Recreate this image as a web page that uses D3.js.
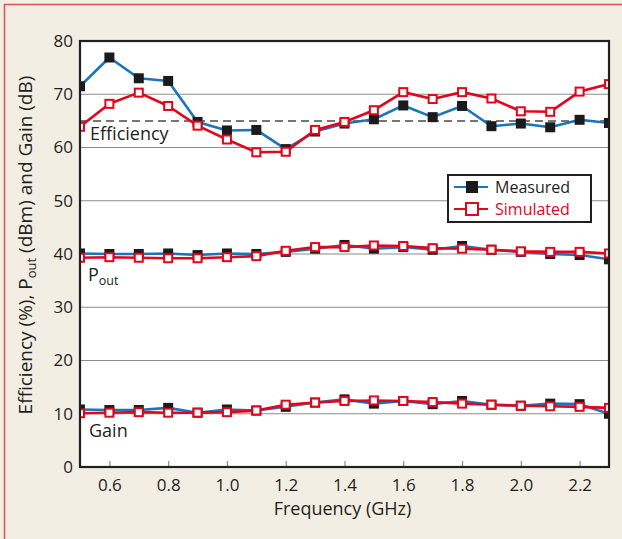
<!DOCTYPE html>
<html>
<head>
<meta charset="utf-8">
<script src="https://cdn.jsdelivr.net/npm/d3@7"></script>
<style>
  html, body { margin: 0; padding: 0; background: #f3eee3; }
  svg { display: block; }
  text { font-family: "Open Sans", Lato, sans-serif; fill: #231f20; }
</style>
</head>
<body>
<svg id="chart" width="622" height="539"></svg>
<script>
// Frequency sweep (GHz)
const freq = [0.5, 0.6, 0.7, 0.8, 0.9, 1.0, 1.1, 1.2, 1.3, 1.4, 1.5, 1.6, 1.7, 1.8, 1.9, 2.0, 2.1, 2.2, 2.3];

// Drain efficiency (%)
const effMeasured  = [71.5, 76.9, 73.0, 72.5, 64.8, 63.2, 63.3, 59.7, 63.0, 64.5, 65.3, 67.9, 65.7, 67.8, 64.0, 64.5, 63.8, 65.2, 64.6];
const effSimulated = [63.9, 68.2, 70.3, 67.8, 64.1, 61.5, 59.1, 59.2, 63.3, 64.8, 67.0, 70.4, 69.1, 70.4, 69.2, 66.8, 66.7, 70.5, 71.9];

// Output power (dBm)
const poutMeasured  = [40.1, 40.0, 40.0, 40.1, 39.8, 40.1, 40.0, 40.4, 41.0, 41.7, 41.0, 41.3, 40.8, 41.5, 40.8, 40.4, 40.0, 39.8, 39.0];
const poutSimulated = [39.3, 39.4, 39.3, 39.2, 39.2, 39.4, 39.6, 40.6, 41.3, 41.3, 41.6, 41.5, 41.1, 41.0, 40.8, 40.5, 40.4, 40.4, 40.1];

// Gain (dB)
const gainMeasured  = [10.8, 10.7, 10.7, 11.1, 10.2, 10.8, 10.6, 11.3, 12.1, 12.7, 11.9, 12.4, 11.8, 12.4, 11.7, 11.5, 11.9, 11.8, 10.0];
const gainSimulated = [10.1, 10.2, 10.3, 10.2, 10.2, 10.3, 10.6, 11.7, 12.1, 12.4, 12.5, 12.4, 12.2, 11.9, 11.7, 11.5, 11.4, 11.3, 11.1];

// Axis ticks
const xTicks = [0.6, 0.8, 1.0, 1.2, 1.4, 1.6, 1.8, 2.0, 2.2];
const yTicks = [0, 10, 20, 30, 40, 50, 60, 70, 80];
const efficiencyTarget = 65;

const FONT = "'Open Sans', Lato, sans-serif";
const svg = d3.select("#chart");
const W = 622, H = 539;
const margin = { left: 80, right: 13, top: 41, bottom: 72 };
const plotW = W - margin.left - margin.right;
const plotH = H - margin.top - margin.bottom;

// Outer panel border
svg.append("rect")
  .attr("x", 4.5).attr("y", 4.5)
  .attr("width", W + 10).attr("height", H + 10)
  .attr("fill", "#f3eee3")
  .attr("stroke", "#e0505a").attr("stroke-width", 1.5);

const x = d3.scaleLinear().domain([0.5, 2.3]).range([margin.left, margin.left + plotW]);
const y = d3.scaleLinear().domain([0, 80]).range([margin.top + plotH, margin.top]);

// Plot background
svg.append("rect")
  .attr("x", margin.left).attr("y", margin.top)
  .attr("width", plotW).attr("height", plotH)
  .attr("fill", "#ffffff");

// Horizontal grid
svg.append("g")
  .selectAll("line")
  .data(yTicks.filter(v => v > 0 && v < 80))
  .join("line")
  .attr("x1", margin.left).attr("x2", margin.left + plotW)
  .attr("y1", d => y(d)).attr("y2", d => y(d))
  .attr("stroke", "#8c8c8c").attr("stroke-width", 1.2);

// Efficiency reference line
svg.append("line")
  .attr("x1", x(0.5)).attr("x2", x(2.3))
  .attr("y1", y(efficiencyTarget)).attr("y2", y(efficiencyTarget))
  .attr("stroke", "#4a4a4a").attr("stroke-width", 1.5)
  .attr("stroke-dasharray", "8,5");

// Bottom axis: inner ticks
const xAxis = d3.axisBottom(x).tickValues(xTicks).tickSizeInner(-6).tickSizeOuter(0)
  .tickFormat(d3.format(".1f"));
const gx = svg.append("g").attr("transform", `translate(0,${margin.top + plotH})`).call(xAxis);
gx.select(".domain").remove();
gx.selectAll(".tick line").attr("stroke", "#8c8c8c").attr("stroke-width", 1.2);
gx.selectAll(".tick text")
  .attr("dy", null).attr("y", 24)
  .style("font-size", "17px").style("font-family", FONT)
  .attr("fill", "#231f20");

// Left axis labels
const yAxis = d3.axisLeft(y).tickValues(yTicks).tickSize(0).tickPadding(7);
const gy = svg.append("g").attr("transform", `translate(${margin.left},0)`).call(yAxis);
gy.select(".domain").remove();
gy.selectAll(".tick text")
  .style("font-size", "17px").style("font-family", FONT)
  .attr("fill", "#231f20");

// Series
const series = [
  { name: "Measured",  values: [effMeasured, poutMeasured, gainMeasured],   line: "#1a74b9", filled: true },
  { name: "Simulated", values: [effSimulated, poutSimulated, gainSimulated], line: "#e3051b", filled: false }
];

const line = d3.line().x(d => x(d[0])).y(d => y(d[1]));

function drawMarkers(g, pts, s) {
  if (s.filled) {
    g.selectAll(null).data(pts).join("rect")
      .attr("x", d => x(d[0]) - 5).attr("y", d => y(d[1]) - 5)
      .attr("width", 10).attr("height", 10)
      .attr("fill", "#1c1a1b");
  } else {
    g.selectAll(null).data(pts).join("rect")
      .attr("x", d => x(d[0]) - 4).attr("y", d => y(d[1]) - 4)
      .attr("width", 8).attr("height", 8)
      .attr("fill", "#ffffff").attr("stroke", s.line).attr("stroke-width", 2);
  }
}

const clipId = "plot-clip";
svg.append("clipPath").attr("id", clipId)
  .append("rect").attr("x", margin.left).attr("y", margin.top).attr("width", plotW).attr("height", plotH);

const layer = svg.append("g").attr("clip-path", `url(#${clipId})`);
series.forEach(s => {
  const g = layer.append("g");
  s.values.forEach(vals => {
    const pts = freq.map((f, i) => [f, vals[i]]);
    g.append("path").datum(pts)
      .attr("d", line).attr("fill", "none")
      .attr("stroke", s.line).attr("stroke-width", 2.6)
      .attr("stroke-linejoin", "round");
    drawMarkers(g, pts, s);
  });
});

// Plot frame
svg.append("rect")
  .attr("x", margin.left).attr("y", margin.top)
  .attr("width", plotW).attr("height", plotH)
  .attr("fill", "none").attr("stroke", "#231f20").attr("stroke-width", 2.2);

// Curve labels
svg.append("text").attr("x", 90).attr("y", 140).style("font-size", "18px").text("Efficiency");
const pout = svg.append("text").attr("x", 88).attr("y", 281).style("font-size", "18px");
pout.append("tspan").text("P");
pout.append("tspan").attr("dy", 4).style("font-size", "12.5px").text("out");
svg.append("text").attr("x", 89).attr("y", 437).style("font-size", "18px").text("Gain");

// Legend
const lg = svg.append("g");
lg.append("rect")
  .attr("x", 448).attr("y", 175).attr("width", 143).attr("height", 47)
  .attr("fill", "#ffffff").attr("stroke", "#231f20").attr("stroke-width", 2);
series.forEach((s, i) => {
  const cy = 187 + i * 22;
  lg.append("line").attr("x1", 454).attr("x2", 488).attr("y1", cy).attr("y2", cy)
    .attr("stroke", s.line).attr("stroke-width", 2.2);
  if (s.filled) {
    lg.append("rect").attr("x", 466).attr("y", cy - 6).attr("width", 12).attr("height", 12).attr("fill", "#1c1a1b");
  } else {
    lg.append("rect").attr("x", 466).attr("y", cy - 6).attr("width", 12).attr("height", 12)
      .attr("fill", "#ffffff").attr("stroke", s.line).attr("stroke-width", 2);
  }
  lg.append("text").attr("x", 495).attr("y", cy + 6)
    .style("font-size", "16px")
    .style("fill", s.filled ? "#231f20" : "#e3051b")
    .text(s.name);
});

// Axis titles
svg.append("text")
  .attr("x", margin.left + plotW / 2 - 2).attr("y", 515)
  .attr("text-anchor", "middle").style("font-size", "18px")
  .text("Frequency (GHz)");

const yt = svg.append("text")
  .attr("transform", `translate(32,${margin.top + plotH / 2 - 9}) rotate(-90)`)
  .attr("text-anchor", "middle").style("font-size", "19px");
yt.append("tspan").text("Efficiency (%), P");
yt.append("tspan").attr("dy", 4).style("font-size", "13px").text("out");
yt.append("tspan").attr("dy", -4).text(" (dBm) and Gain (dB)");
</script>
</body>
</html>
